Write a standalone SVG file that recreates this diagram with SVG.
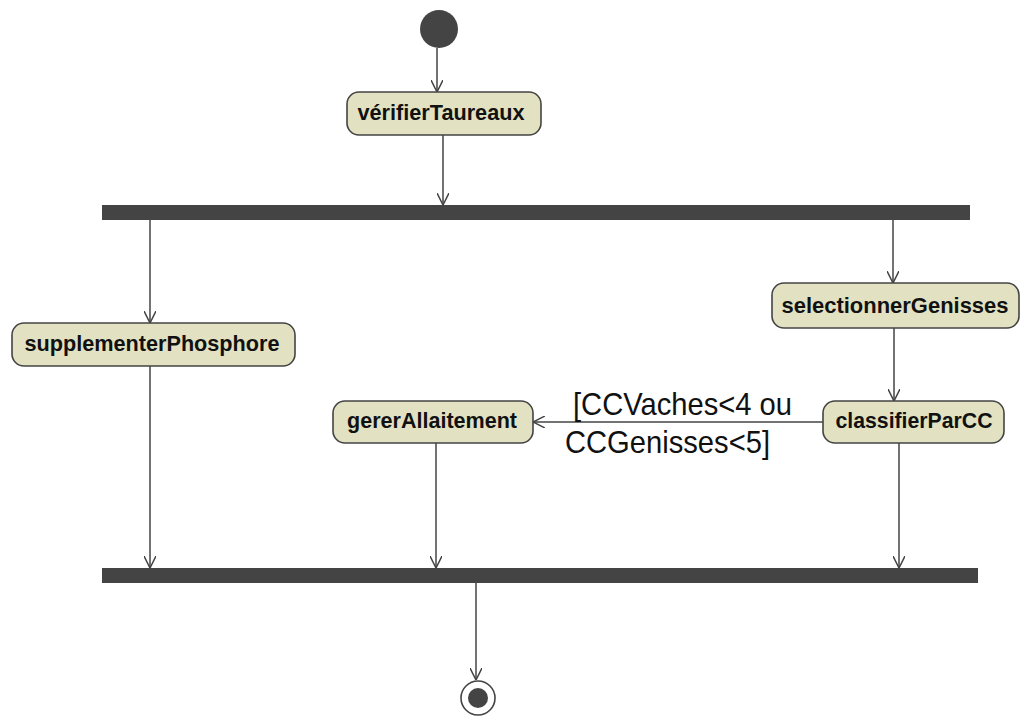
<svg xmlns="http://www.w3.org/2000/svg" width="1024" height="716" viewBox="0 0 1024 716">
  <style>
    .node rect { fill: #E2E2C2; stroke: #444444; stroke-width: 1.6; }
    .node text { font-family: "Liberation Sans", Arial, sans-serif; font-weight: bold; font-size: 22.5px; fill: #111111; text-anchor: middle; }
    .bar { fill: #444444; }
    .edge { stroke: #444444; stroke-width: 1.5; fill: none; }
    .guard { font-family: "Liberation Sans", Arial, sans-serif; font-size: 30.5px; fill: #111111; }
  </style>
  <defs>
    <marker id="arrow" viewBox="0 0 12 12" refX="12" refY="6" markerWidth="12" markerHeight="12" markerUnits="userSpaceOnUse" orient="auto">
      <path d="M0,0 L12,6 L0,12" fill="none" stroke="#444444" stroke-width="1.5"/>
    </marker>
  </defs>
  <rect width="1024" height="716" fill="#FFFFFF"/>

  <g id="start">
    <circle cx="439" cy="29" r="19" fill="#444444"/>
  </g>

  <g id="verifierTaureaux" class="node">
    <rect x="347" y="92" width="194" height="43" rx="12" ry="12"/>
    <text x="441" y="120" textLength="167" lengthAdjust="spacingAndGlyphs">vérifierTaureaux</text>
  </g>

  <g id="fork">
    <rect class="bar" x="102" y="205" width="868" height="15"/>
  </g>

  <g id="supplementerPhosphore" class="node">
    <rect x="12" y="323" width="283" height="43" rx="12" ry="12"/>
    <text x="152" y="351" textLength="255" lengthAdjust="spacingAndGlyphs">supplementerPhosphore</text>
  </g>

  <g id="selectionnerGenisses" class="node">
    <rect x="772" y="283" width="247" height="45" rx="12" ry="12"/>
    <text x="895" y="313" textLength="227" lengthAdjust="spacingAndGlyphs">selectionnerGenisses</text>
  </g>

  <g id="gererAllaitement" class="node">
    <rect x="333" y="401" width="200" height="42" rx="12" ry="12"/>
    <text x="432" y="428" textLength="170" lengthAdjust="spacingAndGlyphs">gererAllaitement</text>
  </g>

  <g id="classifierParCC" class="node">
    <rect x="823" y="401" width="181" height="42" rx="12" ry="12"/>
    <text x="914" y="428" textLength="157" lengthAdjust="spacingAndGlyphs">classifierParCC</text>
  </g>

  <g id="join">
    <rect class="bar" x="102" y="568" width="876" height="15"/>
  </g>

  <g id="end">
    <circle cx="478" cy="698" r="17" fill="#FFFFFF" stroke="#444444" stroke-width="1.6"/>
    <circle cx="478" cy="698" r="10" fill="#444444"/>
  </g>

  <g id="connectors">
    <line class="edge" x1="437" y1="48" x2="437" y2="92" marker-end="url(#arrow)"/>
    <line class="edge" x1="443" y1="135" x2="443" y2="205" marker-end="url(#arrow)"/>
    <line class="edge" x1="150" y1="220" x2="150" y2="323" marker-end="url(#arrow)"/>
    <line class="edge" x1="893" y1="220" x2="893" y2="283" marker-end="url(#arrow)"/>
    <line class="edge" x1="894" y1="328" x2="894" y2="401" marker-end="url(#arrow)"/>
    <line class="edge" x1="823" y1="422" x2="533" y2="422" marker-end="url(#arrow)"/>
    <line class="edge" x1="150" y1="366" x2="150" y2="568" marker-end="url(#arrow)"/>
    <line class="edge" x1="436" y1="443" x2="436" y2="568" marker-end="url(#arrow)"/>
    <line class="edge" x1="899" y1="443" x2="899" y2="568" marker-end="url(#arrow)"/>
    <line class="edge" x1="476" y1="583" x2="476" y2="680" marker-end="url(#arrow)"/>
    <text class="guard" x="573" y="415" textLength="219" lengthAdjust="spacingAndGlyphs">[CCVaches&lt;4 ou</text>
    <text class="guard" x="565" y="453" textLength="205" lengthAdjust="spacingAndGlyphs">CCGenisses&lt;5]</text>
  </g>
</svg>
